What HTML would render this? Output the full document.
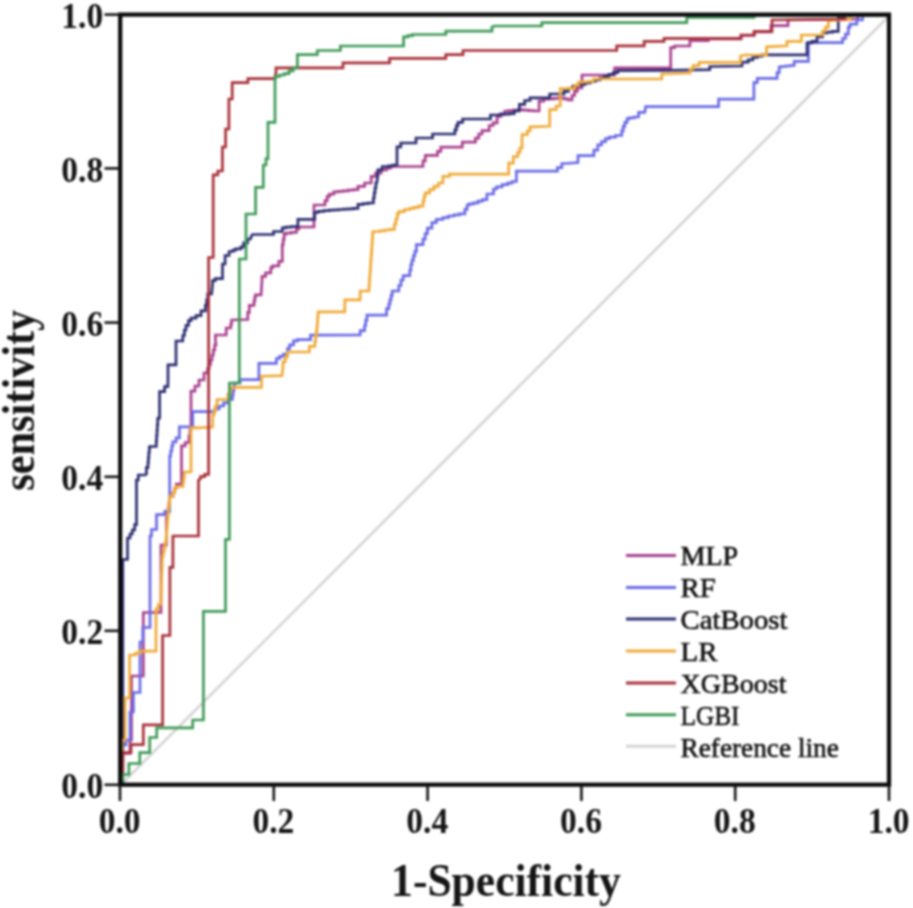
<!DOCTYPE html>
<html>
<head>
<meta charset="utf-8">
<style>
html,body{margin:0;padding:0;background:#fff;width:913px;height:908px;overflow:hidden;}
svg{display:block;font-variant-ligatures:none;filter:blur(1px);}
.tk{font-family:"Liberation Serif",serif;font-weight:bold;font-size:35.5px;fill:#151515;}
.tt{font-family:"Liberation Serif",serif;font-weight:bold;font-size:45px;fill:#151515;}
.lg{font-family:"Liberation Serif",serif;font-size:27.5px;fill:#111;stroke:#111;stroke-width:0.6px;}
</style>
</head>
<body>
<svg width="913" height="908" viewBox="0 0 913 908">
<g fill="none" stroke-width="2.7" stroke-linejoin="miter">
<line x1="120" y1="785.6" x2="889" y2="16" stroke="#d4d4d4" stroke-width="2.6"/>
<polyline points="120.0,784.8 120.0,782.0 122.0,782.0 122.0,753.4 130.0,753.4 130.0,744.6 130.0,740.0 131.5,740.0 131.5,676.0 143.3,676.0 143.3,612.5 161.0,612.5 161.0,545.0 166.4,545.0 166.4,523.0 166.4,518.0 167.2,518.0 167.2,513.0 168.1,513.0 168.1,508.0 168.9,508.0 168.9,503.0 169.7,503.0 169.7,496.4 173.0,496.4 173.0,492.3 174.7,492.3 174.7,488.2 176.3,488.2 176.3,484.0 180.0,484.0 181.5,484.0 181.5,449.0 181.5,445.8 185.2,445.8 185.2,442.5 189.0,442.5 189.0,436.2 190.0,436.2 190.0,430.0 191.0,430.0 191.0,396.5 191.0,391.2 195.0,391.2 195.0,386.0 199.0,386.0 199.0,380.0 204.0,380.0 204.0,373.0 207.6,373.0 207.6,368.7 209.1,368.7 209.1,364.3 210.5,364.3 210.5,360.0 212.0,360.0 212.0,355.0 213.3,355.0 213.3,350.0 214.7,350.0 214.7,345.0 216.0,345.0 215.4,340.0 215.4,335.0 218.5,335.0 226.2,335.0 226.2,328.0 230.8,328.0 230.8,324.0 231.6,324.0 231.6,320.0 232.4,320.0 247.8,319.5 247.8,312.4 249.3,312.4 249.3,305.4 254.0,305.4 254.0,301.2 254.8,301.2 254.8,297.0 255.5,297.0 255.5,294.9 261.1,294.9 262.0,280.0 262.0,276.4 265.6,276.4 265.6,272.9 270.8,272.9 270.8,267.6 272.6,267.6 272.6,265.8 278.8,265.8 278.8,261.4 282.3,261.4 282.3,250.0 282.3,244.7 283.2,244.7 283.2,239.4 284.1,239.4 284.1,234.1 285.8,234.1 285.8,233.2 291.1,233.2 291.1,232.3 296.4,232.3 296.4,228.8 299.0,228.8 299.0,227.0 305.0,227.0 314.0,227.0 314.0,205.0 325.0,205.0 325.0,200.7 327.2,200.7 327.2,196.3 329.4,196.3 329.4,194.1 333.8,194.1 333.8,191.9 338.2,191.9 338.2,191.3 343.1,191.3 343.1,190.8 348.1,190.8 348.1,190.2 353.1,190.2 353.1,189.6 358.0,189.6 358.0,186.3 364.6,186.3 364.6,183.0 371.2,183.0 371.2,176.4 375.6,176.4 375.6,173.1 381.1,173.1 381.1,169.8 386.6,169.8 386.6,168.2 390.5,168.2 390.5,166.5 394.4,166.5 423.0,166.5 423.0,160.9 425.3,160.9 425.3,155.4 427.6,155.4 437.5,155.4 437.5,151.3 440.8,151.3 440.8,147.2 444.0,147.2 462.3,147.2 462.3,142.2 475.5,142.2 475.5,138.1 478.8,138.1 478.8,134.0 482.0,134.0 482.0,130.7 489.2,130.7 489.2,125.5 493.1,125.5 493.1,122.8 497.1,122.8 497.1,116.3 501.0,116.3 501.0,113.7 504.9,113.7 504.9,111.0 508.9,111.0 508.9,110.6 513.7,110.6 513.7,110.1 518.6,110.1 518.6,109.7 523.4,109.7 523.4,110.1 528.6,110.1 528.6,110.6 533.9,110.6 533.9,111.0 539.1,111.0 539.1,103.1 539.1,101.2 543.7,101.2 543.7,99.2 548.3,99.2 548.3,98.8 553.6,98.8 553.6,98.3 558.8,98.3 558.8,97.9 564.1,97.9 564.1,98.8 568.0,98.8 568.0,99.8 572.0,99.8 572.0,95.5 574.6,95.5 574.6,91.3 577.3,91.3 577.3,88.0 582.0,88.0 582.0,75.0 614.6,75.0 614.6,67.8 670.7,67.8 670.7,51.4 670.7,47.6 674.5,47.6 674.5,46.0 689.9,46.0 689.9,40.7 708.3,40.7 708.3,38.8 741.0,38.8 741.0,35.4 754.0,35.4 754.0,31.8 771.0,31.8 771.0,25.7 788.0,25.7 788.0,20.0 858.0,19.0 858.0,15.5 864.0,15.5 889.0,15.5" stroke="#a8408e"/>
<polyline points="120.0,784.8 120.0,782.0 122.0,782.0 122.0,750.0 122.0,745.0 126.0,745.0 126.0,740.0 130.0,740.0 130.0,712.0 133.4,712.0 133.4,692.5 140.0,692.5 140.0,645.2 140.0,642.0 142.8,642.0 142.8,627.5 150.0,627.5 150.0,536.0 151.5,536.0 151.5,529.5 156.5,529.5 156.5,514.6 164.8,514.6 164.8,511.3 169.7,511.3 169.7,461.0 169.7,456.0 170.7,456.0 170.7,451.0 171.8,451.0 171.8,446.0 172.8,446.0 172.8,441.9 176.1,441.9 176.1,437.8 179.4,437.8 179.4,426.8 192.7,426.8 192.7,411.6 214.8,411.6 214.8,408.8 219.2,408.8 219.2,406.0 223.6,406.0 223.6,402.8 228.0,402.8 228.0,399.5 232.4,399.5 232.4,395.1 233.1,395.1 233.1,390.7 233.9,390.7 233.9,386.3 234.6,386.3 234.6,383.0 240.1,383.0 240.1,379.6 245.7,379.6 258.9,379.6 258.9,363.3 276.4,363.3 276.4,358.5 279.6,358.5 279.6,356.3 283.5,356.3 283.5,354.1 287.4,354.1 287.4,348.6 289.6,348.6 289.6,344.8 293.5,344.8 293.5,340.9 297.3,340.9 297.3,339.6 300.7,339.6 310.5,339.6 310.5,335.2 313.8,335.2 360.2,335.0 360.2,330.6 364.6,330.6 364.6,325.5 365.7,325.5 365.7,320.3 366.9,320.3 366.9,315.2 368.0,315.2 386.6,315.2 386.6,308.6 388.8,308.6 388.8,304.2 389.9,304.2 389.9,299.8 391.1,299.8 391.1,295.4 392.2,295.4 392.2,291.0 398.8,291.0 398.8,285.5 401.0,285.5 401.0,280.0 403.2,280.0 403.2,275.6 409.8,275.6 409.8,270.1 410.9,270.1 410.9,264.5 412.0,264.5 412.0,260.1 413.5,260.1 413.5,255.7 414.9,255.7 414.9,251.3 416.4,251.3 416.4,244.7 423.0,244.7 423.0,239.2 425.2,239.2 425.2,233.7 427.4,233.7 427.4,228.2 431.9,228.2 431.9,222.7 436.3,222.7 436.3,219.4 442.9,219.4 442.9,217.7 448.4,217.7 448.4,216.0 453.9,216.0 453.9,214.9 459.4,214.9 459.4,213.9 464.9,213.9 464.9,209.4 467.1,209.4 467.1,205.0 469.3,205.0 469.3,203.9 473.7,203.9 473.7,202.9 478.1,202.9 478.1,201.2 482.5,201.2 482.5,199.6 486.9,199.6 486.9,194.0 493.5,194.0 493.5,189.0 496.6,189.0 496.6,186.8 502.1,186.8 502.1,184.6 507.6,184.6 507.6,183.1 512.0,183.1 512.0,181.5 516.4,181.5 516.4,171.2 557.4,171.2 557.4,167.6 561.8,167.6 561.8,163.5 566.2,163.5 578.0,162.5 578.0,155.6 593.9,155.6 593.9,150.2 597.8,150.2 597.8,144.8 601.6,144.8 601.6,141.7 605.5,141.7 605.5,138.6 609.3,138.6 609.3,137.1 615.5,137.1 615.5,135.5 621.7,135.5 621.7,130.9 623.2,130.9 623.2,126.3 624.8,126.3 624.8,122.4 627.1,122.4 627.1,118.6 629.4,118.6 629.4,117.8 634.0,117.8 634.0,117.0 638.6,117.0 638.6,112.4 644.8,112.4 645.6,106.6 718.6,106.6 718.6,99.2 722.0,99.2 753.9,99.2 753.9,87.1 753.9,82.7 757.2,82.7 757.2,78.3 760.5,78.3 777.1,78.3 777.1,72.7 779.2,72.7 779.2,67.0 781.4,67.0 781.4,66.5 785.7,66.5 785.7,66.0 789.9,66.0 789.9,65.5 794.2,65.5 794.2,61.3 808.4,61.3 808.4,44.2 808.4,42.7 812.7,42.7 842.6,42.7 842.6,38.5 845.5,38.5 845.5,34.2 848.3,34.2 848.3,27.1 850.0,27.1 850.0,24.2 856.8,24.2 856.8,20.0 862.5,20.0 862.5,15.5 865.0,15.5 889.0,15.5" stroke="#6a6ae6"/>
<polyline points="120.0,784.8 120.0,782.0 122.8,782.0 122.8,561.0 122.8,559.5 127.5,559.5 127.5,541.0 127.5,538.0 130.0,538.0 130.0,534.0 132.3,534.0 132.3,530.0 134.7,530.0 134.7,524.7 136.5,524.7 136.5,480.0 138.3,480.0 138.3,475.0 144.9,475.0 146.4,474.2 146.4,467.6 148.0,467.6 148.0,462.6 148.4,462.6 148.4,457.6 148.8,457.6 148.8,452.7 149.3,452.7 149.3,447.7 149.7,447.7 149.7,446.5 156.3,446.5 156.3,441.1 156.6,441.1 156.6,435.7 157.0,435.7 157.0,430.4 157.3,430.4 157.3,425.0 157.7,425.0 157.7,419.6 158.0,419.6 158.0,418.0 159.6,418.0 159.6,396.5 159.6,391.6 164.6,391.6 164.6,386.6 167.9,386.6 168.0,379.7 168.0,364.8 176.0,364.8 176.0,345.0 176.0,341.0 182.8,341.0 182.8,335.5 184.4,335.5 184.4,330.0 186.0,330.0 186.0,325.3 188.5,325.3 188.5,320.6 191.0,320.6 191.0,318.1 196.0,318.1 196.0,315.6 201.0,315.6 201.0,310.8 205.4,310.8 205.4,305.4 206.6,305.4 206.6,300.0 207.7,300.0 207.7,294.0 211.6,294.0 212.5,284.5 212.5,280.6 215.2,280.6 215.2,278.6 222.5,278.6 222.5,268.0 222.5,264.0 225.1,264.0 225.1,260.1 225.1,255.5 229.1,255.5 229.1,251.5 233.0,251.5 233.0,250.2 235.7,250.2 235.7,248.9 241.0,248.9 241.0,246.9 243.6,246.9 243.6,242.9 247.6,242.9 247.6,239.0 250.5,239.0 251.5,235.9 252.5,234.5 273.5,234.5 273.5,231.5 276.1,231.5 282.3,231.5 282.3,227.9 285.8,227.9 285.8,227.2 291.1,227.2 291.1,226.6 296.4,226.6 297.9,226.6 297.9,219.4 314.7,219.4 314.7,212.3 318.2,212.3 318.2,211.4 323.8,211.4 323.8,210.6 329.4,210.6 329.4,210.2 334.2,210.2 334.2,209.9 338.9,209.9 338.9,209.5 343.7,209.5 343.7,209.1 348.5,209.1 348.5,208.8 353.2,208.8 353.2,208.4 358.0,208.4 358.0,205.0 358.0,204.3 363.1,204.3 363.1,203.7 368.3,203.7 368.3,203.0 373.4,203.0 373.4,198.0 374.2,198.0 374.2,193.0 375.0,193.0 375.0,188.0 375.9,188.0 375.9,183.0 376.7,183.0 377.8,176.4 377.8,169.8 382.2,169.8 382.2,166.5 388.8,166.5 388.8,165.8 392.9,165.8 392.9,165.0 397.0,165.0 397.0,150.5 397.0,146.8 400.8,146.8 400.8,143.0 404.5,143.0 416.0,143.0 416.0,138.0 432.6,138.0 432.6,134.0 454.9,134.0 454.9,129.8 456.4,129.8 456.4,125.7 458.0,125.7 458.0,122.3 462.6,122.3 462.6,119.0 467.3,119.0 490.5,119.0 490.5,115.0 494.5,115.0 499.7,115.0 499.7,114.5 504.5,114.5 504.5,114.1 509.4,114.1 509.4,113.6 514.2,113.6 514.2,111.0 519.4,111.0 519.4,104.4 524.7,104.4 524.7,100.5 530.0,100.5 530.0,97.9 533.9,97.9 549.7,97.9 549.7,94.0 553.6,94.0 564.1,94.0 564.1,91.3 568.5,91.3 568.5,88.7 572.9,88.7 572.9,86.0 577.3,86.0 577.3,85.2 581.2,85.2 581.2,84.5 585.2,84.5 585.2,83.0 590.1,83.0 590.1,81.5 595.1,81.5 595.1,80.0 600.0,80.0 600.0,78.2 604.4,78.2 604.4,76.3 608.9,76.3 608.9,74.4 613.3,74.4 613.3,72.6 617.7,72.6 617.7,70.6 621.7,70.6 665.0,70.4 709.8,69.6 709.8,66.5 711.3,66.5 742.0,66.0 742.0,62.1 748.2,62.1 748.2,59.8 752.8,59.8 752.8,57.5 757.4,57.5 757.4,56.2 762.0,56.2 762.0,54.9 766.6,54.9 807.0,54.9 807.0,44.2 807.0,42.8 812.0,42.8 812.0,41.3 817.0,41.3 817.0,37.0 822.6,37.0 822.6,32.8 827.0,32.8 827.0,32.1 832.6,32.1 832.6,31.4 838.3,31.4 838.3,21.4 838.3,18.0 845.0,18.0 845.0,15.5 850.0,15.5 889.0,15.5" stroke="#2c2e70"/>
<polyline points="120.0,784.8 120.0,782.0 122.0,782.0 122.0,745.0 122.0,740.0 125.0,740.0 125.0,700.0 125.0,698.0 129.6,698.0 129.6,656.2 129.6,655.0 135.6,655.0 135.6,653.1 139.4,653.1 139.4,651.2 143.3,651.2 156.0,651.2 156.0,613.2 156.0,608.9 158.4,608.9 158.4,604.5 160.8,604.5 160.8,599.6 161.0,599.6 161.0,594.7 161.1,594.7 161.1,589.8 161.3,589.8 161.3,584.9 161.5,584.9 161.5,580.1 161.6,580.1 161.6,575.2 161.8,575.2 161.8,570.3 162.0,570.3 162.0,565.4 162.1,565.4 162.1,560.5 162.3,560.5 162.3,556.1 163.2,556.1 163.2,551.7 164.2,551.7 164.2,547.3 165.1,547.3 165.1,542.9 166.0,542.9 166.0,538.3 166.4,538.3 166.4,533.7 166.7,533.7 166.7,529.2 167.1,529.2 167.1,524.6 167.4,524.6 167.4,520.0 167.8,520.0 167.8,514.3 168.4,514.3 168.4,508.7 169.1,508.7 169.1,503.0 169.7,503.0 169.7,496.4 173.0,496.4 173.0,492.3 174.7,492.3 174.7,488.2 176.3,488.2 176.3,486.5 183.0,486.5 183.0,481.7 183.7,481.7 183.7,476.8 184.3,476.8 184.3,472.0 185.0,472.0 191.0,472.0 191.0,427.6 196.0,427.6 196.0,428.0 212.6,427.0 212.6,419.3 212.6,414.9 214.1,414.9 214.1,410.4 215.5,410.4 215.5,406.0 217.0,406.0 217.0,399.5 228.0,399.5 228.0,394.0 230.2,394.0 230.2,388.5 232.4,388.5 232.4,387.4 261.5,387.4 261.5,376.2 281.9,375.6 283.0,367.4 283.0,361.9 285.2,361.9 285.2,356.9 287.4,356.9 287.4,352.0 289.6,352.0 309.4,352.0 309.4,346.4 314.9,346.4 314.9,341.3 315.6,341.3 315.6,336.1 316.3,336.1 316.3,331.0 317.0,331.0 317.0,326.5 317.3,326.5 317.3,322.0 317.6,322.0 317.6,317.5 318.0,317.5 318.0,313.0 318.3,313.0 318.3,311.9 344.8,311.9 344.8,299.8 360.2,299.8 360.2,291.0 369.0,291.0 369.0,285.8 369.4,285.8 369.4,280.7 369.7,280.7 369.7,275.5 370.1,275.5 370.1,270.3 370.5,270.3 370.5,265.2 370.8,265.2 370.8,260.0 371.2,260.0 371.2,254.7 371.6,254.7 371.6,249.5 371.9,249.5 371.9,244.2 372.3,244.2 372.3,239.0 372.6,239.0 372.6,233.7 373.0,233.7 373.0,231.5 380.0,231.5 380.0,230.8 384.8,230.8 384.8,230.0 389.6,230.0 389.6,229.3 394.4,229.3 394.4,224.2 395.9,224.2 395.9,219.0 397.3,219.0 397.3,213.9 398.8,213.9 398.8,211.7 404.3,211.7 404.3,209.5 409.8,209.5 409.8,208.4 414.2,208.4 414.2,207.3 418.6,207.3 418.6,206.2 423.0,206.2 423.0,201.2 424.1,201.2 424.1,196.3 425.2,196.3 425.2,192.9 429.6,192.9 429.6,189.6 434.0,189.6 434.0,186.3 438.4,186.3 438.4,183.0 442.9,183.0 442.9,176.4 449.5,176.4 449.5,174.2 508.7,174.2 508.7,170.0 508.7,163.2 513.3,163.2 513.3,156.6 517.8,156.6 517.8,152.3 519.9,152.3 519.9,148.0 522.0,148.0 522.0,141.2 522.0,134.7 527.3,134.7 527.3,130.8 530.0,130.8 530.0,126.8 532.6,126.8 549.7,126.3 549.7,111.0 549.7,109.7 556.2,109.7 556.2,106.0 560.2,106.0 560.2,88.7 574.6,88.7 574.6,85.4 578.5,85.4 578.5,82.1 582.5,82.1 593.5,81.0 593.5,79.0 661.8,79.0 661.8,74.0 690.0,73.0 690.0,69.0 693.0,69.0 693.0,65.7 699.1,65.7 699.1,62.4 705.2,62.4 740.5,62.4 740.5,56.0 745.0,55.0 766.6,55.0 766.6,46.8 787.0,45.8 787.0,41.3 801.3,41.3 801.3,35.0 822.6,35.0 822.6,31.1 825.5,31.1 825.5,27.1 828.3,27.1 828.3,20.5 832.6,20.5 850.0,19.5 850.0,15.5 856.0,15.5 889.0,15.5" stroke="#f0aa38"/>
<polyline points="120.0,784.8 122.5,784.0 123.0,752.6 131.0,752.6 131.0,744.6 143.3,744.6 143.3,724.8 162.6,724.8 162.6,635.5 169.9,635.5 169.9,567.4 172.9,567.4 172.9,536.0 198.5,536.0 198.5,480.0 200.5,478.8 200.5,476.6 204.6,476.6 204.6,474.4 208.6,474.4 208.6,257.5 213.2,257.5 213.2,178.6 213.2,174.8 217.8,174.8 217.8,171.0 222.4,171.0 222.4,147.0 225.6,147.0 225.6,129.0 228.9,129.0 228.9,99.0 232.2,99.0 232.2,82.7 247.9,82.7 247.9,78.6 275.1,78.6 276.0,72.0 276.0,67.9 279.0,67.9 343.0,67.9 343.0,62.9 389.6,62.9 389.6,58.3 445.8,58.3 445.8,54.6 463.0,54.6 463.0,50.5 616.7,50.5 616.7,45.8 644.2,45.8 644.2,41.4 664.0,41.4 664.0,38.4 741.0,38.4 741.0,35.0 754.3,35.0 754.3,31.4 772.0,31.4 772.0,20.0 845.0,19.0 845.0,15.5 850.0,15.5 889.0,15.5" stroke="#a83038"/>
<polyline points="120.0,784.8 122.5,784.0 122.5,774.5 128.9,774.5 128.9,763.5 139.8,763.5 139.8,752.6 149.7,752.6 149.7,737.5 156.7,737.5 156.7,727.8 192.7,727.8 192.7,720.0 203.4,720.0 203.4,617.0 203.4,611.4 206.3,611.4 225.5,611.4 225.5,542.0 225.5,539.3 229.4,539.3 229.4,383.0 239.3,383.0 239.3,259.0 246.0,259.0 246.0,214.0 255.6,214.0 255.6,187.4 263.3,187.4 263.3,167.6 263.3,165.0 266.0,165.0 266.0,158.7 268.0,158.7 268.0,129.0 268.0,122.4 275.0,122.4 275.0,77.8 275.0,76.4 279.7,76.4 279.7,75.0 284.3,75.0 284.3,73.6 289.0,73.6 289.0,70.8 293.2,70.8 293.2,67.9 297.4,67.9 297.4,54.6 317.3,54.6 317.3,50.5 340.4,50.5 340.4,46.0 342.0,46.0 403.6,46.0 403.6,38.1 403.6,36.9 408.0,36.9 408.0,35.7 412.5,35.7 412.5,34.5 416.9,34.5 445.8,34.5 445.8,31.2 492.0,31.2 492.0,26.9 494.4,26.0 541.8,26.0 541.8,22.7 686.8,22.7 686.8,17.5 754.0,17.5 754.0,15.5 756.0,15.5 889.0,15.5" stroke="#3f9a58"/>
</g>
<rect x="120.2" y="14.6" width="768.8" height="770.1" fill="none" stroke="#0a0a0a" stroke-width="4.2"/>
<g stroke="#151515" stroke-width="2.6">
<line x1="104.5" y1="784.8" x2="120" y2="784.8"/>
<line x1="104.5" y1="630.8" x2="120" y2="630.8"/>
<line x1="104.5" y1="476.8" x2="120" y2="476.8"/>
<line x1="104.5" y1="322.6" x2="120" y2="322.6"/>
<line x1="104.5" y1="168.4" x2="120" y2="168.4"/>
<line x1="104.5" y1="14.6" x2="120" y2="14.6"/>
<line x1="120" y1="785" x2="120" y2="801"/>
<line x1="273.8" y1="785" x2="273.8" y2="801"/>
<line x1="427.6" y1="785" x2="427.6" y2="801"/>
<line x1="581.4" y1="785" x2="581.4" y2="801"/>
<line x1="735.2" y1="785" x2="735.2" y2="801"/>
<line x1="889" y1="785" x2="889" y2="801"/>
</g>
<g class="tk" text-anchor="end">
<text transform="translate(103.2,798.3) scale(0.945,1)">0.0</text>
<text transform="translate(103.2,644.3) scale(0.945,1)">0.2</text>
<text transform="translate(103.2,490.3) scale(0.945,1)">0.4</text>
<text transform="translate(103.2,336.3) scale(0.945,1)">0.6</text>
<text transform="translate(103.2,182.3) scale(0.945,1)">0.8</text>
<text transform="translate(103.2,28.3) scale(0.945,1)">1.0</text>
</g>
<g class="tk" text-anchor="middle">
<text transform="translate(119.6,832.8) scale(0.945,1)">0.0</text>
<text transform="translate(273.40000000000003,832.8) scale(0.945,1)">0.2</text>
<text transform="translate(427.20000000000005,832.8) scale(0.945,1)">0.4</text>
<text transform="translate(581.0,832.8) scale(0.945,1)">0.6</text>
<text transform="translate(734.8000000000001,832.8) scale(0.945,1)">0.8</text>
<text transform="translate(888.6,832.8) scale(0.945,1)">1.0</text>
</g>
<text class="tt" style="font-size:46px" transform="translate(506,895.6) scale(0.947,1)" text-anchor="middle">1-Specificity</text>
<text class="tt" style="font-size:47px" transform="translate(33.6,400.2) rotate(-90) scale(0.9,1)" text-anchor="middle">sensitivity</text>
<g stroke-width="3">
<line x1="626" y1="555.6" x2="676" y2="555.6" stroke="#a8408e"/>
<line x1="626" y1="587.5" x2="676" y2="587.5" stroke="#6a6ae6"/>
<line x1="626" y1="619" x2="676" y2="619" stroke="#2c2e70"/>
<line x1="626" y1="651" x2="676" y2="651" stroke="#f0aa38"/>
<line x1="626" y1="683" x2="676" y2="683" stroke="#a83038"/>
<line x1="626" y1="714.7" x2="676" y2="714.7" stroke="#3f9a58"/>
<line x1="626" y1="746.3" x2="676" y2="746.3" stroke="#d4d4d4"/>
</g>
<g class="lg">
<text transform="translate(680.5,565.4) scale(1.02,1)">MLP</text>
<text transform="translate(680.5,597.2) scale(1.05,1)">RF</text>
<text transform="translate(680.5,628.8) scale(1.046,1)">CatBoost</text>
<text transform="translate(680.5,660.8) scale(1.05,1)">LR</text>
<text transform="translate(680.5,692.8) scale(1.02,1)">XGBoost</text>
<text transform="translate(680.5,724.8) scale(0.92,1)">LGBI</text>
<text transform="translate(680.5,756.8) scale(0.993,1)">Reference line</text>
</g>
</svg>
</body>
</html>
